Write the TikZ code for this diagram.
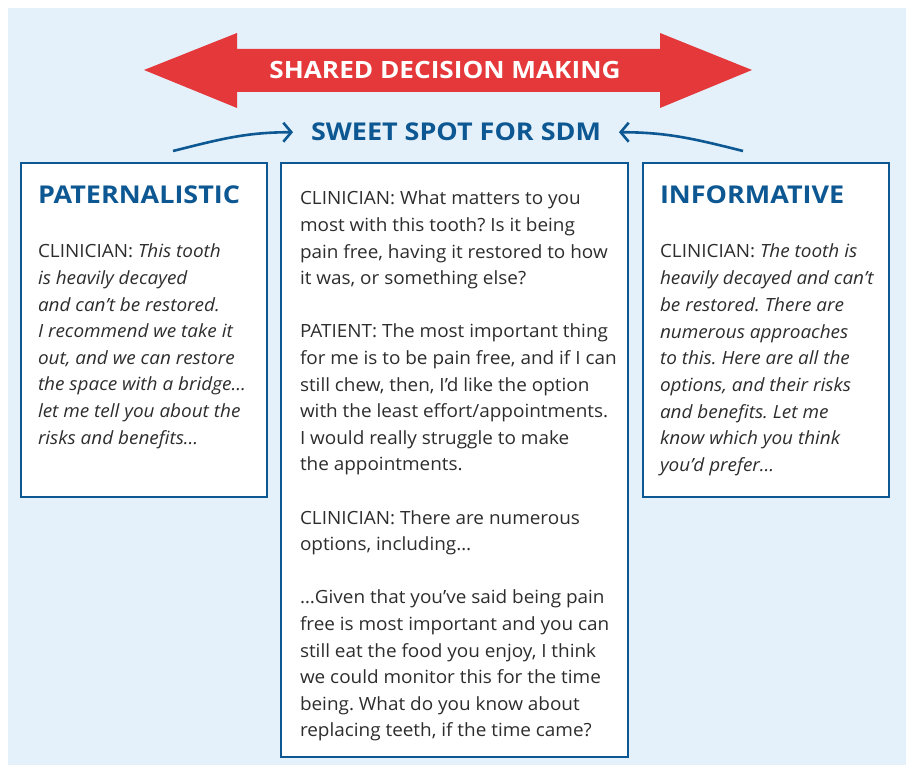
\documentclass[tikz,border=0pt]{standalone}
\usepackage{fontspec}
\setmainfont{Open Sans}[FakeStretch=1.04]
\newfontfamily\headfont{Open Sans}[FakeStretch=1.1]
\frenchspacing
\usetikzlibrary{arrows.meta}

\definecolor{bgColor}{RGB}{228,241,251}
\definecolor{redColor}{RGB}{229,56,59}
\definecolor{blueColor}{RGB}{13,88,146}
\definecolor{textColor}{RGB}{45,45,45}

\tikzset{
  bodytext/.style={text=textColor,anchor=base west,inner sep=0pt,outer sep=0pt,
    font=\fontsize{18.2}{22}\selectfont},
  headtext/.style={text=blueColor,anchor=base west,inner sep=0pt,outer sep=0pt,
    font=\headfont\fontsize{24.5}{30}\selectfont\bfseries},
  panel/.style={draw=blueColor,fill=white,line width=2.6pt},
  sdmarrow/.style={draw=blueColor,line width=2.6pt,
    -{Straight Barb[length=8pt,width=19pt,line width=2.6pt]}}
}

\begin{document}
\begin{tikzpicture}[x=1pt,y=1pt]
\path[use as bounding box,fill=white] (0,0) rectangle (906,765);
\path[fill=bgColor] (8,0) rectangle (906,757);

% big double arrow
\path[fill=redColor] (144,695) -- (237,732) -- (237,716) -- (660,716) -- (660,732)
  -- (752,695) -- (660,657) -- (660,673) -- (237,673) -- (237,657) -- cycle;
\node (sdm) [text=white,anchor=base,inner sep=0pt,outer sep=0pt,
  font=\headfont\fontsize{23.8}{28}\selectfont\bfseries] at (445,686) {SHARED DECISION MAKING};

% sweet spot label and the two curved arrows
\node (sweet) [text=blueColor,anchor=base,inner ysep=0pt,inner xsep=18pt,outer sep=0pt,
  font=\headfont\fontsize{24.5}{28}\selectfont\bfseries] at (456,624) {SWEET SPOT FOR SDM};
\coordinate (patStart) at (173,614);
\coordinate (infStart) at (743,614);
\draw[sdmarrow] (patStart) to[out=14,in=180] (sweet.west);
\draw[sdmarrow] (infStart) to[out=166,in=0] (sweet.east);

% panels
\path[panel] (21,268) rectangle (267,602);
\path[panel] (281,8) rectangle (628,602);
\path[panel] (643,268) rectangle (889,602);

% paternalistic
\node (patHead) [headtext] at (38,561) {PATERNALISTIC};
\node (pat1) [bodytext] at (38,507.0) {CLINICIAN: \textit{This tooth}};
\node (pat2) [bodytext] at (38,480.4) {\textit{is heavily decayed}};
\node (pat3) [bodytext] at (38,453.8) {\textit{and can’t be restored.}};
\node (pat4) [bodytext] at (38,427.2) {\textit{I recommend we take it}};
\node (pat5) [bodytext] at (38,400.6) {\textit{out, and we can restore}};
\node (pat6) [bodytext] at (38,374.0) {\textit{the space with a bridge…}};
\node (pat7) [bodytext] at (38,347.4) {\textit{let me tell you about the}};
\node (pat8) [bodytext] at (38,320.8) {\textit{risks and benefits…}};

% shared decision making dialogue
\node (mid1) [bodytext] at (300,560.0) {CLINICIAN: What matters to you};
\node (mid2) [bodytext] at (300,533.4) {most with this tooth? Is it being};
\node (mid3) [bodytext] at (300,506.8) {pain free, having it restored to how};
\node (mid4) [bodytext] at (300,480.2) {it was, or something else?};

\node (mid5) [bodytext] at (300,427.0) {PATIENT: The most important thing};
\node (mid6) [bodytext] at (300,400.4) {for me is to be pain free, and if I can};
\node (mid7) [bodytext] at (300,373.8) {still chew, then, I’d like the option};
\node (mid8) [bodytext] at (300,347.2) {with the least effort/appointments.};
\node (mid9) [bodytext] at (300,320.6) {I would really struggle to make};
\node (mid10) [bodytext] at (300,294.0) {the appointments.};

\node (mid11) [bodytext] at (300,240.8) {CLINICIAN: There are numerous};
\node (mid12) [bodytext] at (300,214.2) {options, including…};

\node (mid13) [bodytext] at (300,161.0) {…Given that you’ve said being pain};
\node (mid14) [bodytext] at (300,134.4) {free is most important and you can};
\node (mid15) [bodytext] at (300,107.8) {still eat the food you enjoy, I think};
\node (mid16) [bodytext] at (300,81.2) {we could monitor this for the time};
\node (mid17) [bodytext] at (300,54.6) {being. What do you know about};
\node (mid18) [bodytext] at (300,28.0) {replacing teeth, if the time came?};

% informative
\node (infHead) [headtext] at (660,561) {INFORMATIVE};
\node (inf1) [bodytext] at (660,507.0) {CLINICIAN: \textit{The tooth is}};
\node (inf2) [bodytext] at (660,480.3) {\textit{heavily decayed and can’t}};
\node (inf3) [bodytext] at (660,453.6) {\textit{be restored. There are}};
\node (inf4) [bodytext] at (660,426.9) {\textit{numerous approaches}};
\node (inf5) [bodytext] at (660,400.2) {\textit{to this. Here are all the}};
\node (inf6) [bodytext] at (660,373.5) {\textit{options, and their risks}};
\node (inf7) [bodytext] at (660,346.8) {\textit{and benefits. Let me}};
\node (inf8) [bodytext] at (660,320.1) {\textit{know which you think}};
\node (inf9) [bodytext] at (660,293.4) {\textit{you’d prefer…}};
\end{tikzpicture}
\end{document}
